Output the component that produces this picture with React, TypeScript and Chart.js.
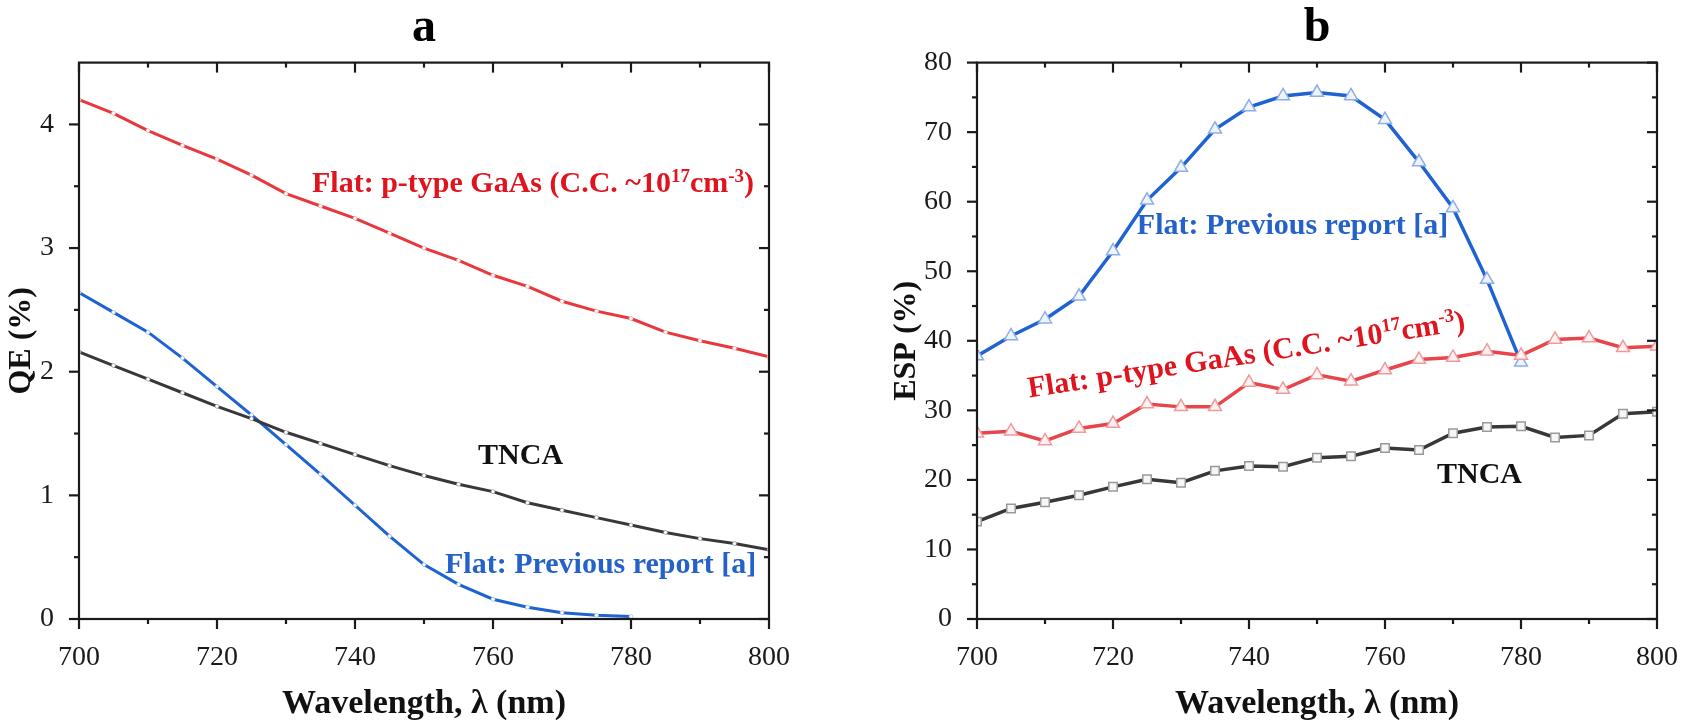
import React, { useEffect, useRef } from 'react';
import { Chart, registerables } from 'chart.js';

Chart.register(...registerables);

const FONT = "'Liberation Serif', 'Times New Roman', serif";

// ---------- data ----------
const wavelengths = [700, 705, 710, 715, 720, 725, 730, 735, 740, 745, 750, 755, 760, 765, 770, 775, 780, 785, 790, 795, 800];
const wavelengthsPrev = [700, 705, 710, 715, 720, 725, 730, 735, 740, 745, 750, 755, 760, 765, 770, 775, 780];

// panel a: QE (%)
const qeGaAs = [4.2, 4.09, 3.95, 3.83, 3.72, 3.59, 3.44, 3.34, 3.24, 3.12, 3.0, 2.9, 2.78, 2.69, 2.57, 2.49, 2.43, 2.32, 2.25, 2.19, 2.12];
const qeTNCA = [2.16, 2.05, 1.94, 1.83, 1.72, 1.62, 1.51, 1.42, 1.33, 1.24, 1.16, 1.09, 1.03, 0.94, 0.88, 0.82, 0.76, 0.7, 0.65, 0.61, 0.56];
const qePrev = [2.64, 2.48, 2.32, 2.11, 1.88, 1.65, 1.41, 1.17, 0.92, 0.67, 0.44, 0.28, 0.16, 0.095, 0.05, 0.03, 0.02];

// panel b: ESP (%)
const espGaAs = [26.7, 27.0, 25.6, 27.4, 28.1, 30.9, 30.5, 30.5, 34.0, 33.0, 35.1, 34.2, 35.8, 37.3, 37.6, 38.5, 37.9, 40.2, 40.4, 39.0, 39.2];
const espTNCA = [14.0, 15.9, 16.8, 17.8, 19.0, 20.1, 19.6, 21.3, 22.0, 21.9, 23.2, 23.4, 24.6, 24.3, 26.7, 27.6, 27.7, 26.1, 26.4, 29.5, 29.8];
const espPrev = [37.8, 40.7, 43.1, 46.4, 52.9, 60.2, 64.9, 70.4, 73.6, 75.2, 75.7, 75.2, 71.8, 65.7, 59.1, 48.8, 36.9];

// ticks
const xMajorTicks = [700, 720, 740, 760, 780, 800];
const xMinorTicks = [710, 730, 750, 770, 790];
const qeMajorTicks = [0, 1, 2, 3, 4];
const qeMinorTicks = [0.5, 1.5, 2.5, 3.5];
const espMajorTicks = [0, 10, 20, 30, 40, 50, 60, 70, 80];
const espMinorTicks = [5, 15, 25, 35, 45, 55, 65, 75];

// in-plot labels (data coordinates)
const gaasLabel = [
  { t: 'Flat: p-type GaAs (C.C. ~10' },
  { t: '17', sup: true },
  { t: 'cm' },
  { t: '-3', sup: true },
  { t: ')' },
];
const qeLabels = [
  { segs: gaasLabel, x: 765.8, y: 3.45, color: '#e0141e', rotation: 0 },
  { segs: [{ t: 'TNCA' }], x: 764, y: 1.25, color: '#111111', rotation: 0 },
  { segs: [{ t: 'Flat: Previous report [a]' }], x: 775.6, y: 0.37, color: '#2462c9', rotation: 0 },
];
const espLabels = [
  { segs: [{ t: 'Flat: Previous report [a]' }], x: 746.4, y: 55.4, color: '#2462c9', rotation: 0 },
  { segs: gaasLabel, x: 739.8, y: 36.7, color: '#e0141e', rotation: -8.8 },
  { segs: [{ t: 'TNCA' }], x: 773.9, y: 19.6, color: '#111111', rotation: 0 },
];

// ---------- plugins ----------
const framePlugin = {
  id: 'frame',
  afterDraw(chart: any, _args: any, opts: any) {
    const { ctx, chartArea, scales } = chart;
    const { left, right, top, bottom } = chartArea;
    const x = scales.x;
    const y = scales.y;
    ctx.save();
    ctx.strokeStyle = '#1a1a1a';
    ctx.lineWidth = 2.2;
    ctx.lineCap = 'butt';
    ctx.strokeRect(left, top, right - left, bottom - top);
    const line = (x1: number, y1: number, x2: number, y2: number) => {
      ctx.beginPath();
      ctx.moveTo(x1, y1);
      ctx.lineTo(x2, y2);
      ctx.stroke();
    };
    const major = 10;
    const minor = 5;
    const xs = [...opts.xMajor.map((v: number) => [v, major]), ...opts.xMinor.map((v: number) => [v, minor])];
    for (const [v, len] of xs) {
      const p = x.getPixelForValue(v);
      line(p, bottom, p, bottom + len);
      line(p, top, p, top + len);
    }
    const ys = [...opts.yMajor.map((v: number) => [v, major]), ...opts.yMinor.map((v: number) => [v, minor])];
    for (const [v, len] of ys) {
      const p = y.getPixelForValue(v);
      line(left - len, p, left, p);
      line(right - len, p, right, p);
    }
    ctx.restore();
  },
};

const labelPlugin = {
  id: 'annots',
  afterDatasetsDraw(chart: any, _args: any, opts: any) {
    const { ctx, scales } = chart;
    const size = opts.size || 30;
    const mainFont = `bold ${size}px ${FONT}`;
    const supFont = `bold ${Math.round(size * 0.64)}px ${FONT}`;
    for (const it of opts.items || []) {
      const px = scales.x.getPixelForValue(it.x);
      const py = scales.y.getPixelForValue(it.y);
      ctx.save();
      ctx.translate(px, py);
      ctx.rotate(((it.rotation || 0) * Math.PI) / 180);
      let w = 0;
      for (const s of it.segs) {
        ctx.font = s.sup ? supFont : mainFont;
        w += ctx.measureText(s.t).width;
      }
      let cx = -w / 2;
      ctx.fillStyle = it.color;
      ctx.textAlign = 'left';
      ctx.textBaseline = 'alphabetic';
      for (const s of it.segs) {
        ctx.font = s.sup ? supFont : mainFont;
        ctx.fillText(s.t, cx, s.sup ? -size * 0.36 : 0);
        cx += ctx.measureText(s.t).width;
      }
      ctx.restore();
    }
  },
};

// ---------- chart config builder ----------
function buildConfig(p: {
  title: string;
  yTitle: string;
  yMax: number;
  yMajor: number[];
  yMinor: number[];
  datasets: any[];
  labels: any[];
  yAxisWidth: number;
  yTitlePad: number;
  padRight: number;
}) {
  const tickFont = { family: FONT, size: 28 };
  return {
    type: 'line' as const,
    data: { datasets: p.datasets },
    plugins: [framePlugin, labelPlugin],
    options: {
      animation: false,
      responsive: false,
      maintainAspectRatio: false,
      layout: { padding: { left: 0, right: p.padRight, top: 0, bottom: 0 } },
      plugins: {
        legend: { display: false },
        tooltip: { enabled: false },
        title: {
          display: true,
          text: p.title,
          fullSize: false,
          color: '#000',
          font: { family: FONT, size: 48, weight: 'bold' },
          padding: { top: 0, bottom: 5 },
        },
        frame: { xMajor: xMajorTicks, xMinor: xMinorTicks, yMajor: p.yMajor, yMinor: p.yMinor },
        annots: { items: p.labels, size: 30 },
      },
      scales: {
        x: {
          type: 'linear',
          min: 700,
          max: 800,
          grid: { display: false },
          border: { display: false },
          ticks: { font: tickFont, color: '#1a1a1a', padding: 14, maxRotation: 0 },
          afterBuildTicks: (s: any) => {
            s.ticks = xMajorTicks.map((value) => ({ value }));
          },
          afterFit: (s: any) => {
            s.height = 106;
          },
          title: {
            display: true,
            text: 'Wavelength, λ (nm)',
            color: '#111',
            font: { family: FONT, size: 34, weight: 'bold' },
            padding: { top: 0, bottom: 0 },
          },
        },
        y: {
          type: 'linear',
          min: 0,
          max: p.yMax,
          grid: { display: false },
          border: { display: false },
          ticks: { font: tickFont, color: '#1a1a1a', padding: 17 },
          afterBuildTicks: (s: any) => {
            s.ticks = p.yMajor.map((value) => ({ value }));
          },
          afterFit: (s: any) => {
            s.width = p.yAxisWidth;
          },
          title: {
            display: true,
            text: p.yTitle,
            color: '#111',
            font: { family: FONT, size: 32, weight: 'bold' },
            padding: { top: p.yTitlePad, bottom: 0 },
          },
        },
      },
    },
  };
}

const pts = (xs: number[], ys: number[]) => xs.map((x, i) => ({ x, y: ys[i] }));

function ChartCanvas({ config, width, height }: { config: any; width: number; height: number }) {
  const ref = useRef<HTMLCanvasElement | null>(null);
  useEffect(() => {
    if (!ref.current) return;
    const chart = new Chart(ref.current, config);
    return () => chart.destroy();
  }, [config]);
  return <canvas ref={ref} width={width} height={height} style={{ width, height, display: 'block' }} />;
}

const smallDot = (color: string) => ({
  pointRadius: 2,
  pointBackgroundColor: '#ffffff',
  pointBorderColor: color,
  pointBorderWidth: 0.6,
});

const configA = buildConfig({
  title: 'a',
  yTitle: 'QE (%)',
  yMax: 4.5,
  yMajor: qeMajorTicks,
  yMinor: qeMinorTicks,
  yAxisWidth: 79,
  yTitlePad: 3,
  padRight: 77,
  labels: qeLabels,
  datasets: [
    { label: 'TNCA', data: pts(wavelengths, qeTNCA), borderColor: '#383838', borderWidth: 3, ...smallDot('#888') },
    { label: 'Flat: Previous report [a]', data: pts(wavelengthsPrev, qePrev), borderColor: '#1f62d2', borderWidth: 3, ...smallDot('#8fb0e8') },
    { label: 'Flat: p-type GaAs', data: pts(wavelengths, qeGaAs), borderColor: '#e8383e', borderWidth: 3, ...smallDot('#f0a0a0') },
  ],
});

const configB = buildConfig({
  title: 'b',
  yTitle: 'ESP (%)',
  yMax: 80,
  yMajor: espMajorTicks,
  yMinor: espMinorTicks,
  yAxisWidth: 97,
  yTitlePad: 8,
  padRight: 25,
  labels: espLabels,
  datasets: [
    {
      label: 'TNCA',
      data: pts(wavelengths, espTNCA),
      borderColor: '#383838',
      borderWidth: 3.5,
      pointStyle: 'rect',
      pointRadius: 6,
      pointBackgroundColor: '#f6f6f6',
      pointBorderColor: '#9a9a9a',
      pointBorderWidth: 1.5,
    },
    {
      label: 'Flat: p-type GaAs',
      data: pts(wavelengths, espGaAs),
      borderColor: '#e8454a',
      borderWidth: 3.5,
      pointStyle: 'triangle',
      pointRadius: 7.5,
      pointBackgroundColor: '#fdf1f1',
      pointBorderColor: '#f09a9c',
      pointBorderWidth: 1.5,
    },
    {
      label: 'Flat: Previous report [a]',
      data: pts(wavelengthsPrev, espPrev),
      borderColor: '#1f62d2',
      borderWidth: 3.5,
      pointStyle: 'triangle',
      pointRadius: 7.5,
      pointBackgroundColor: '#eef3fc',
      pointBorderColor: '#8eaee6',
      pointBorderWidth: 1.5,
    },
  ],
});

export default function App() {
  return (
    <div style={{ position: 'absolute', left: 0, top: 0, width: 1692, height: 725, background: '#ffffff', overflow: 'hidden' }}>
      <div style={{ position: 'absolute', left: 0, top: 0 }}>
        <ChartCanvas config={configA} width={846} height={725} />
      </div>
      <div style={{ position: 'absolute', left: 880, top: 0 }}>
        <ChartCanvas config={configB} width={812} height={725} />
      </div>
    </div>
  );
}
